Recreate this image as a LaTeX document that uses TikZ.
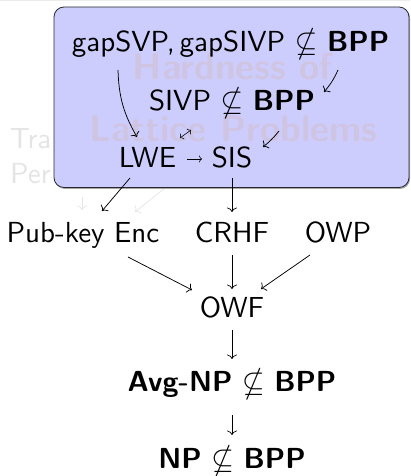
\documentclass[tikz,border=0pt]{standalone}
\usepackage{amssymb}
\usepackage{fontspec}
\setsansfont{lmsans10-regular}[Extension=.otf, BoldFont=lmsans10-bold]
\usetikzlibrary{arrows.meta}

\definecolor{boxfill}{RGB}{205,205,253}
\definecolor{boxline}{RGB}{40,40,50}
\definecolor{ghost}{RGB}{207,197,226}
\definecolor{hidden}{RGB}{228,228,228}
\definecolor{rulegray}{RGB}{236,236,236}

\tikzset{
  lbl/.style={font=\fontsize{29}{35}\selectfont\sffamily, inner sep=0pt, anchor=base},
  ghosttext/.style={font=\fontsize{37}{44}\selectfont\sffamily\bfseries, text=ghost, inner sep=0pt, anchor=base},
  hiddentext/.style={font=\fontsize{29}{35}\selectfont\sffamily, text=hidden, inner sep=0pt, anchor=base west},
  arr/.style={line width=0.75pt, -{Computer Modern Rightarrow[length=4.5pt,width=10pt]}},
  smallarr/.style={line width=0.6pt, -{Computer Modern Rightarrow[length=3pt,width=7pt]}},
  dblarr/.style={line width=0.6pt, {Computer Modern Rightarrow[length=3pt,width=7pt]}-{Computer Modern Rightarrow[length=3pt,width=7pt]}},
  fadearr/.style={line width=0.7pt, draw=hidden, -{Computer Modern Rightarrow[length=4.5pt,width=10pt]}},
}

\begin{document}
\begin{tikzpicture}[x=1pt, y=1pt]
\useasboundingbox (0,0) rectangle (410,476);
\draw[rulegray, line width=1.5pt] (0,475.5) -- (410,475.5);

% partly covered labels on the left
\node[hiddentext] (tra) at (10,327) {Tra};
\node[hiddentext] (per) at (10,292) {Per};

% bottom chain of primitives
\node[lbl] (pub)  at (83,233)  {Pub-key Enc};
\node[lbl] (crhf) at (232,233) {CRHF};
\node[lbl] (owp)  at (338,233) {OWP};
\node[lbl] (owf)  at (232,158) {OWF};
\node[lbl] (avg)  at (232,84)  {\textbf{Avg-NP} $\nsubseteq$ \textbf{BPP}};
\node[lbl] (np)   at (232,8)   {\textbf{NP} $\nsubseteq$ \textbf{BPP}};

% lattice block positions (drawn above the box below)
\coordinate (lweC) at (147.5,308);

% faint arrows from the covered labels
\draw[fadearr] ([shift={(72pt,-13pt)}]per.base west) -- ([shift={(-1pt,33pt)}]pub.base);
\draw[fadearr] ([shift={(27.5pt,-12pt)}]lweC) -- ([shift={(52pt,31pt)}]pub.base);

% lattice box with a soft shadow
\fill[black!35, rounded corners=10pt] (55,287) rectangle (410,468);
\draw[boxline, fill=boxfill, line width=0.8pt, rounded corners=10pt] (54,288.5) rectangle (409,469);

\node[ghosttext] (hard1) at (232.5,396) {Hardness of};
\node[ghosttext] (hard2) at (233.5,334) {Lattice Problems};

\node[lbl] (gap)  at (230.5,424) {gapSVP,\,gapSIVP $\nsubseteq$ \textbf{BPP}};
\node[lbl] (sivp) at (232,365)   {SIVP $\nsubseteq$ \textbf{BPP}};
\node[lbl] (lwe)  at (lweC)      {LWE};
\node[lbl] (sis)  at (232,308)   {SIS};

% reductions inside the box
\draw[arr] ([shift={(-112.5pt,-18pt)}]gap.base) to[bend right=14] ([shift={(-10.5pt,31pt)}]lwe.base);
\draw[arr] ([shift={(107.5pt,-18pt)}]gap.base) to[bend left=8] ([shift={(92pt,19pt)}]sivp.base);
\draw[arr] ([shift={(47pt,-20pt)}]sivp.base) to[bend left=6] ([shift={(31pt,21pt)}]sis.base);
\draw[dblarr] ([shift={(32.5pt,30pt)}]lwe.base) -- ([shift={(-41pt,-19pt)}]sivp.base);
\draw[smallarr] ([shift={(39.5pt,9pt)}]lwe.base) -- ([shift={(-30pt,9pt)}]sis.base);

% out of the box
\draw[arr] ([shift={(-17.5pt,-10pt)}]lwe.base) -- ([shift={(19pt,32pt)}]pub.base);
\draw[arr] ([shift={(0pt,-10pt)}]sis.base) -- ([shift={(0pt,31pt)}]crhf.base);

% down to OWF and below
\draw[arr] ([shift={(45pt,-14pt)}]pub.base) -- ([shift={(-40pt,28pt)}]owf.base);
\draw[arr] ([shift={(0pt,-12pt)}]crhf.base) -- ([shift={(0pt,29pt)}]owf.base);
\draw[arr] ([shift={(-28pt,-12pt)}]owp.base) -- ([shift={(29pt,29pt)}]owf.base);
\draw[arr] ([shift={(0pt,-12pt)}]owf.base) -- ([shift={(0pt,33pt)}]avg.base);
\draw[arr] ([shift={(0pt,-23pt)}]avg.base) -- ([shift={(0pt,33pt)}]np.base);
\end{tikzpicture}
\end{document}
